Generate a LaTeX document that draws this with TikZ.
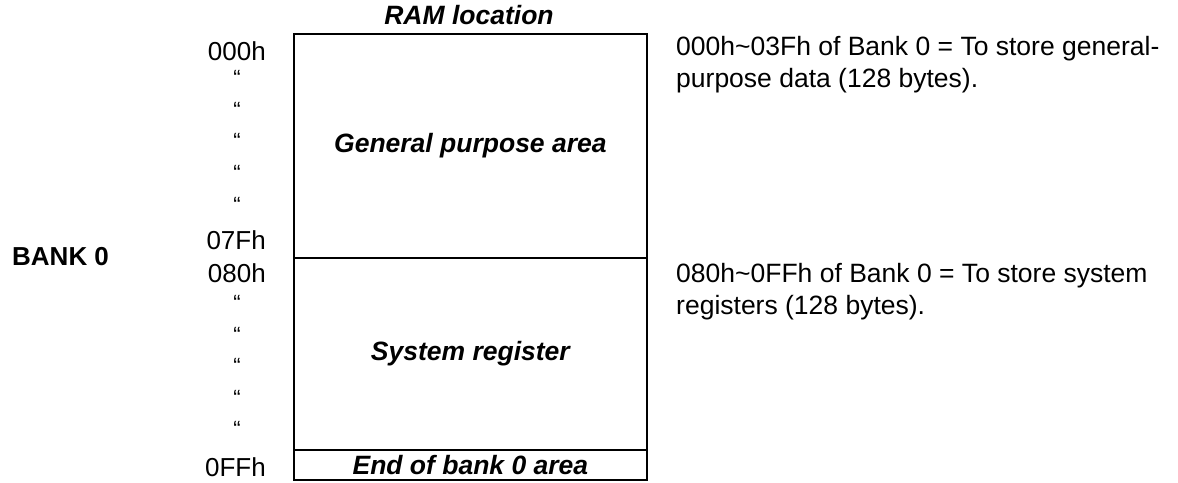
\documentclass[tikz,border=0pt]{standalone}
\usepackage{fontspec}
\setmainfont{Liberation Sans}
\begin{document}
\begin{tikzpicture}[x=1pt,y=-1pt,
  txt/.style={inner sep=0pt,font=\fontsize{26.5}{32}\selectfont},
  bi/.style={inner sep=0pt,font=\fontsize{26.5}{32}\selectfont\bfseries\itshape},
  addr/.style={inner sep=0pt,anchor=east,font=\fontsize{26}{32}\selectfont},
  ditto/.style={inner sep=0pt,font=\fontsize{22}{24}\selectfont},
  boxline/.style={draw=black,line width=1.8pt}]
\useasboundingbox (0,0) rectangle (1178,482);
% boxes
\node[boxline,minimum width=353pt,minimum height=224pt,anchor=north west,inner sep=0pt] (gp) at (293,33) {};
\node[boxline,minimum width=353pt,minimum height=192pt,anchor=north west,inner sep=0pt] (sr) at (293,257) {};
\node[boxline,minimum width=353pt,minimum height=30pt,anchor=north west,inner sep=0pt] (eb) at (293,449) {};
\node[bi] (gpl) at (gp.center) {General purpose area};
\node[bi] (srl) at (sr.center) {System register};
\node[bi] (ebl) at (eb.center) {End of bank 0 area};
\node[bi] (ram) at (469,15) {RAM location};
% addresses
\node[addr] (a0) at (266,51) {000h};
\node[ditto] (d1) at (237,78) {``};
\node[ditto] (d2) at (237,110) {``};
\node[ditto] (d3) at (237,141) {``};
\node[ditto] (d4) at (237,173) {``};
\node[ditto] (d5) at (237,205) {``};
\node[addr] (a1) at (266,240) {07Fh};
\node[addr] (a2) at (266,273) {080h};
\node[ditto] (d6) at (237,303) {``};
\node[ditto] (d7) at (237,335) {``};
\node[ditto] (d8) at (237,366) {``};
\node[ditto] (d9) at (237,398) {``};
\node[ditto] (d10) at (237,429) {``};
\node[addr] (a3) at (266,467) {0FFh};
\node[inner sep=0pt,anchor=west,font=\fontsize{26}{32}\selectfont\bfseries] (bank) at (12,257) {BANK 0};
% descriptions
\node[txt,anchor=north west,align=left] (desc1) at (676,36) {000h\textasciitilde 03Fh of Bank 0 = To store general-\\purpose data (128 bytes).};
\node[txt,anchor=north west,align=left] (desc2) at (676,263) {080h\textasciitilde 0FFh of Bank 0 = To store system\\registers (128 bytes).};
\end{tikzpicture}
\end{document}
